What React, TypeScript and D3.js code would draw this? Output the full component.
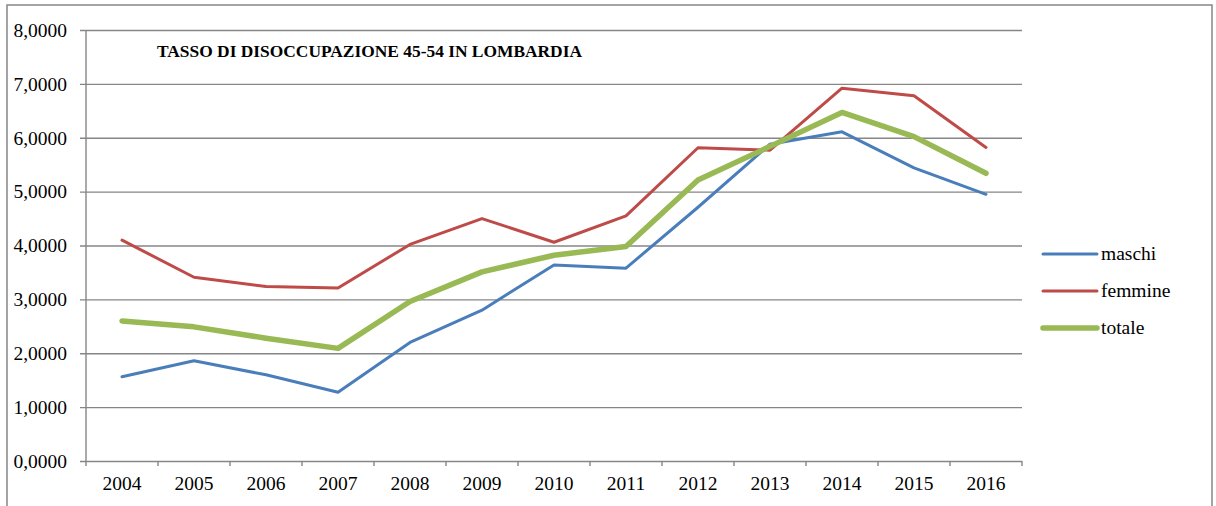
import React, { useRef, useEffect } from 'react'
import * as d3 from 'd3'

const years = ['2004', '2005', '2006', '2007', '2008', '2009', '2010', '2011', '2012', '2013', '2014', '2015', '2016']
const maschi = [1.565, 1.86, 1.6, 1.275, 2.2, 2.8, 3.64, 3.58, 4.71, 5.88, 6.11, 5.44, 4.95]
const femmine = [4.1, 3.41, 3.24, 3.21, 4.02, 4.5, 4.06, 4.55, 5.815, 5.77, 6.92, 6.78, 5.82]
const totale = [2.6, 2.49, 2.28, 2.09, 2.96, 3.51, 3.82, 3.98, 5.215, 5.84, 6.47, 6.02, 5.34]
const yTicks = [0, 1, 2, 3, 4, 5, 6, 7, 8]
const title = 'TASSO DI DISOCCUPAZIONE 45-54 IN LOMBARDIA'

const series = [
  { name: 'maschi', values: maschi, color: '#4A7EBB', width: 3 },
  { name: 'femmine', values: femmine, color: '#BE4B48', width: 3 },
  { name: 'totale', values: totale, color: '#98B954', width: 5.5 },
]

const font = '"Liberation Serif", "DejaVu Serif", serif'
const labelSize = 19.5

const App = () => {
  const svgRef = useRef<SVGSVGElement>(null)

  useEffect(() => {
    const svg = d3.select(svgRef.current).attr('width', 1216).attr('height', 506)
    svg.selectAll('*').remove()

    const left = 86
    const right = 1022
    const top = 30
    const bottom = 461
    const grey = '#868686'

    // chart frame
    svg
      .append('rect')
      .attr('x', 7)
      .attr('y', 5)
      .attr('width', 1205)
      .attr('height', 530)
      .attr('fill', 'white')
      .attr('stroke', grey)
      .attr('stroke-width', 1.5)

    const x = d3.scaleBand().domain(years).range([left, right]).paddingInner(0).paddingOuter(0)
    const y = d3.scaleLinear().domain([0, 8]).range([bottom, top])

    // y axis with gridlines
    const yAxis = svg
      .append('g')
      .attr('transform', 'translate(80,0)')
      .call(
        d3
          .axisLeft(y)
          .tickValues(yTicks)
          .tickSizeInner(-(right - 80))
          .tickSizeOuter(0)
          .tickPadding(13)
          .tickFormat((d) => d3.format('.4f')(d as number).replace('.', ','))
      )
    yAxis.select('.domain').remove()
    yAxis.selectAll('line').attr('stroke', grey).attr('stroke-width', 1.4)
    yAxis
      .selectAll('text')
      .attr('font-family', font)
      .attr('font-size', labelSize)
      .attr('fill', '#000')

    // vertical axis line
    svg
      .append('line')
      .attr('x1', left)
      .attr('x2', left)
      .attr('y1', top)
      .attr('y2', bottom)
      .attr('stroke', grey)
      .attr('stroke-width', 1.4)

    // x axis labels
    const xAxis = svg
      .append('g')
      .attr('transform', `translate(0,${bottom})`)
      .call(d3.axisBottom(x).tickSize(0).tickPadding(15))
    xAxis.select('.domain').remove()
    xAxis
      .selectAll('text')
      .attr('font-family', font)
      .attr('font-size', labelSize)
      .attr('fill', '#000')

    // x boundary ticks
    const bounds = years.map((d) => x(d) as number).concat([right])
    svg
      .append('g')
      .selectAll('line')
      .data(bounds)
      .enter()
      .append('line')
      .attr('x1', (d) => d)
      .attr('x2', (d) => d)
      .attr('y1', bottom)
      .attr('y2', bottom + 5)
      .attr('stroke', grey)
      .attr('stroke-width', 1.4)

    // title
    svg
      .append('text')
      .attr('x', 157)
      .attr('y', 56.5)
      .attr('font-family', font)
      .attr('font-weight', 'bold')
      .attr('font-size', 17.4)
      .text(title)

    const line = d3
      .line<number>()
      .x((d, i) => (x(years[i]) as number) + x.bandwidth() / 2)
      .y((d) => y(d))

    series.forEach((s) => {
      svg
        .append('path')
        .datum(s.values)
        .attr('d', line)
        .attr('fill', 'none')
        .attr('stroke', s.color)
        .attr('stroke-width', s.width)
        .attr('stroke-linejoin', 'round')
        .attr('stroke-linecap', 'round')
    })

    // legend
    const legend = svg
      .append('g')
      .selectAll('g')
      .data(series)
      .enter()
      .append('g')
      .attr('transform', (d, i) => `translate(1043,${254 + i * 37})`)
    legend
      .append('line')
      .attr('x1', 0)
      .attr('x2', 54)
      .attr('stroke', (d) => d.color)
      .attr('stroke-width', (d) => d.width)
      .attr('stroke-linecap', 'round')
    legend
      .append('text')
      .attr('x', 58)
      .attr('dy', '0.33em')
      .attr('font-family', font)
      .attr('font-size', labelSize)
      .text((d) => d.name)
  }, [])

  return <svg ref={svgRef} style={{ position: 'absolute', left: 0, top: 0 }} />
}

export default App
